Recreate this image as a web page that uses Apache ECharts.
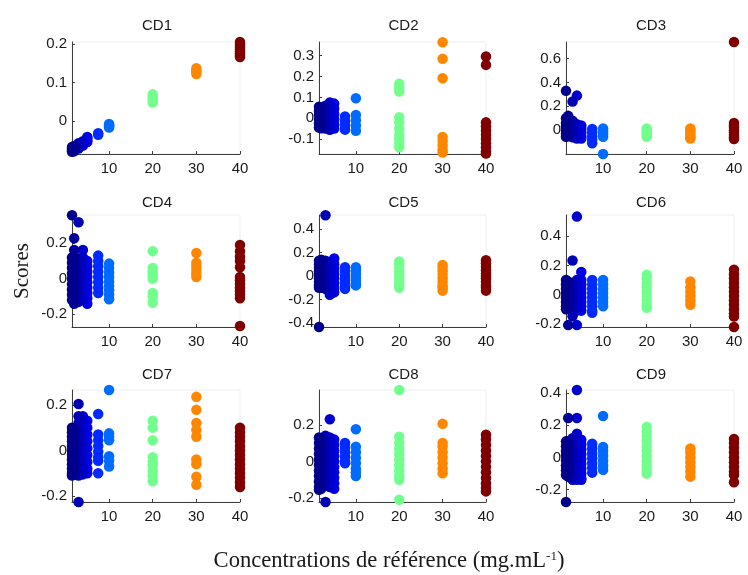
<!DOCTYPE html>
<html>
<head>
<meta charset="utf-8">
<script src="https://cdn.jsdelivr.net/npm/echarts@6/dist/echarts.min.js"></script>
<style>html,body{margin:0;padding:0;background:#fff}#chart{width:748px;height:575px}</style>
</head>
<body>
<div id="chart"></div>
<script>
// Concentrations (mg/mL) – x values of each column of points
const conc = [1.5, 2, 3, 4, 5, 7.5, 10, 20, 30, 40];
const xTicks = [10, 20, 30, 40];
const panelTitles = ['CD1', 'CD2', 'CD3', 'CD4', 'CD5', 'CD6', 'CD7', 'CD8', 'CD9'];

// Scores per panel, one list per concentration (same order as conc)
const cd1 = [
  [-0.08, -0.076, -0.072, -0.068],
  [-0.079, -0.074, -0.07, -0.065],
  [-0.072, -0.067, -0.062, -0.058],
  [-0.064, -0.058, -0.053],
  [-0.055, -0.05, -0.045, -0.042],
  [-0.036, -0.032],
  [-0.008, -0.011, -0.014, -0.017],
  [0.069, 0.062, 0.055, 0.048],
  [0.137, 0.132, 0.127, 0.122],
  [0.205, 0.2, 0.195, 0.19, 0.185, 0.18, 0.175, 0.17, 0.166]
];
const cd2 = [
  [0.055, 0.035, 0.015, -0.005, -0.025, -0.045],
  [0.05, 0.03, 0.01, -0.01, -0.03, -0.048],
  [0.06, 0.04, 0.02, 0, -0.02, -0.04, -0.05],
  [0.075, 0.05, 0.025, 0, -0.025, -0.05, -0.056],
  [0.07, 0.045, 0.02, -0.005, -0.03, -0.05],
  [0.008, -0.015, -0.035, -0.055],
  [0.096, 0.015, -0.01, -0.035, -0.06],
  [0.165, 0.145, 0.128, 0.005, -0.02, -0.05, -0.08, -0.1, -0.12, -0.14],
  [0.365, 0.285, 0.192, -0.09, -0.11, -0.13, -0.15, -0.165],
  [0.296, 0.256, -0.02, -0.04, -0.06, -0.08, -0.1, -0.12, -0.14, -0.16, -0.17]
];
const cd3 = [
  [0.33, 0.1, 0.06, 0.03, 0, -0.03, -0.055],
  [0.12, 0.08, 0.04, 0.01, -0.02, -0.05],
  [0.24, 0.08, 0.05, 0.02, -0.01, -0.04, -0.06],
  [0.29, 0.05, 0.02, -0.01, -0.04, -0.07],
  [0.04, 0.01, -0.02, -0.05, -0.07],
  [0.01, -0.02, -0.05, -0.08, -0.11],
  [0.015, -0.01, -0.03, -0.055, -0.2],
  [0.015, 0, -0.02, -0.04, -0.055],
  [0.015, 0, -0.02, -0.04, -0.06, -0.07],
  [0.74, 0.06, 0.04, 0.02, 0, -0.02, -0.04, -0.06, -0.075]
];
const cd4 = [
  [0.357, 0.12, 0.09, 0.06, 0.03, 0, -0.03, -0.06, -0.09, -0.12],
  [0.227, 0.162, 0.13, 0.1, 0.07, 0.04, 0.01, -0.02, -0.05, -0.08, -0.11, -0.14],
  [0.317, 0.11, 0.08, 0.05, 0.02, -0.01, -0.04, -0.07, -0.1, -0.13],
  [0.162, 0.12, 0.09, 0.06, 0.03, 0, -0.03, -0.06, -0.09, -0.12],
  [0.1, 0.07, 0.04, 0.01, -0.02, -0.05, -0.08, -0.11, -0.14],
  [0.13, 0.1, 0.07, 0.04, 0.01, -0.02, -0.05, -0.08],
  [0.085, 0.06, 0.035, 0.01, -0.015, -0.04, -0.065, -0.09, -0.115],
  [0.155, 0.06, 0.04, 0.02, 0, -0.08, -0.1, -0.135],
  [0.145, 0.09, 0.07, 0.05, 0.03, 0.01],
  [0.19, 0.155, 0.125, 0.1, 0.065, 0.01, -0.01, -0.03, -0.05, -0.07, -0.09, -0.11, -0.265]
];
const cd5 = [
  [-0.436, 0.13, 0.1, 0.07, 0.04, 0.01, -0.02, -0.05, -0.08, -0.1],
  [0.14, 0.11, 0.08, 0.05, 0.02, -0.01, -0.04, -0.07, -0.1],
  [0.52, 0.13, 0.1, 0.07, 0.04, 0.01, -0.02, -0.05, -0.08, -0.11],
  [0.1, 0.07, 0.04, 0.01, -0.02, -0.05, -0.08, -0.11, -0.14, -0.16],
  [0.15, 0.1, 0.06, 0.02, -0.02, -0.06, -0.1, -0.14],
  [0.075, 0.04, 0.005, -0.03, -0.06, -0.09, -0.11],
  [0.075, 0.05, 0.02, -0.01, -0.04, -0.07, -0.08],
  [0.125, 0.1, 0.07, 0.04, 0.01, -0.02, -0.05, -0.08, -0.1],
  [0.095, 0.07, 0.04, 0.01, -0.02, -0.05, -0.08, -0.1, -0.125],
  [0.135, 0.11, 0.08, 0.05, 0.02, 0, -0.02, -0.05, -0.08, -0.1, -0.125]
];
const cd6 = [
  [0.1, 0.07, 0.04, 0.01, -0.02, -0.05, -0.08, -0.1],
  [0.09, 0.06, 0.03, 0, -0.03, -0.06, -0.09, -0.209],
  [0.234, 0.08, 0.05, 0.02, -0.01, -0.04, -0.07, -0.1, -0.148],
  [0.534, 0.1, 0.07, 0.04, 0.01, -0.02, -0.05, -0.08, -0.11, -0.209],
  [0.155, 0.1, 0.07, 0.04, 0.01, -0.02, -0.05, -0.08, -0.11],
  [0.1, 0.07, 0.04, 0.01, -0.02, -0.05, -0.08, -0.11, -0.125],
  [0.1, 0.07, 0.04, 0.01, -0.02, -0.05, -0.08],
  [0.135, 0.11, 0.08, 0.05, 0.02, -0.01, -0.04, -0.07, -0.09],
  [0.09, 0.05, 0.02, -0.01, -0.04, -0.07],
  [0.17, 0.14, 0.11, 0.08, 0.05, 0.02, -0.01, -0.04, -0.07, -0.1, -0.13, -0.15, -0.222]
];
const cd7 = [
  [0.1, 0.08, 0.06, 0.04, 0.02, 0, -0.02, -0.04, -0.06, -0.08, -0.1, -0.11],
  [0.09, 0.065, 0.04, 0.015, -0.01, -0.035, -0.06, -0.085, -0.105],
  [0.204, 0.15, 0.12, 0.09, 0.06, 0.03, 0, -0.03, -0.06, -0.09, -0.11, -0.226],
  [0.15, 0.12, 0.09, 0.06, 0.03, 0, -0.03, -0.06, -0.09, -0.105],
  [0.13, 0.1, 0.07, 0.04, 0.01, -0.02, -0.05, -0.08, -0.1],
  [0.16, 0.07, 0.045, 0.02, -0.005, -0.03, -0.045, -0.1],
  [0.265, 0.075, 0.06, 0.045, -0.025, -0.045, -0.07],
  [0.13, 0.1, 0.045, -0.03, -0.05, -0.065, -0.09, -0.11, -0.135],
  [0.235, 0.178, 0.12, 0.09, 0.06, -0.04, -0.06, -0.115, -0.15],
  [0.1, 0.08, 0.06, 0.04, 0.02, 0, -0.02, -0.04, -0.06, -0.08, -0.1, -0.12, -0.14, -0.16]
];
const cd8 = [
  [0.13, 0.1, 0.07, 0.04, 0.01, -0.02, -0.05, -0.08, -0.11, -0.14, -0.155],
  [0.12, 0.09, 0.06, 0.03, 0, -0.03, -0.06, -0.09, -0.12, -0.15],
  [0.14, 0.11, 0.08, 0.05, 0.02, -0.01, -0.04, -0.07, -0.1, -0.13, -0.222],
  [0.23, 0.13, 0.1, 0.07, 0.04, 0.01, -0.02, -0.05, -0.08, -0.11, -0.14],
  [0.12, 0.09, 0.06, 0.03, 0, -0.03, -0.06, -0.09, -0.12, -0.15],
  [0.1, 0.075, 0.05, 0.025, 0, -0.01],
  [0.176, 0.08, 0.05, 0.02, -0.01, -0.04, -0.06, -0.08],
  [0.39, 0.135, 0.1, 0.07, 0.04, 0.01, -0.02, -0.05, -0.08, -0.1, -0.21],
  [0.205, 0.1, 0.08, 0.05, 0.02, -0.01, -0.04, -0.065],
  [0.145, 0.12, 0.09, 0.06, 0.03, 0, -0.03, -0.06, -0.09, -0.12, -0.145, -0.164]
];
const cd9 = [
  [-0.278, 0.1, 0.07, 0.04, 0.01, -0.02, -0.05, -0.08, -0.11],
  [0.245, 0.1, 0.07, 0.04, 0.01, -0.02, -0.05, -0.08, -0.11, -0.12],
  [0.12, 0.09, 0.06, 0.03, 0, -0.03, -0.06, -0.09, -0.12, -0.14],
  [0.42, 0.245, 0.148, 0.1, 0.07, 0.04, 0.01, -0.02, -0.05, -0.08, -0.11, -0.14],
  [0.11, 0.08, 0.05, 0.02, -0.01, -0.04, -0.07, -0.1, -0.13, -0.14],
  [0.085, 0.055, 0.025, -0.005, -0.035, -0.065, -0.095],
  [0.258, 0.065, 0.04, 0.01, -0.02, -0.05, -0.078],
  [0.19, 0.16, 0.13, 0.1, 0.07, 0.04, 0.01, -0.02, -0.05, -0.08, -0.1],
  [0.055, 0.03, 0, -0.03, -0.06, -0.09, -0.12],
  [0.115, 0.09, 0.06, 0.03, 0, -0.03, -0.06, -0.09, -0.11, -0.155]
];

// Axis ranges and tick labels of each panel
const yRanges = [
  [-0.086, 0.205], [-0.172, 0.366], [-0.2, 0.74],
  [-0.271, 0.358], [-0.436, 0.522], [-0.222, 0.545],
  [-0.226, 0.265], [-0.222, 0.39], [-0.278, 0.42]
];
const yTicks = [
  [0, 0.1, 0.2], [-0.1, 0, 0.1, 0.2, 0.3], [0, 0.2, 0.4, 0.6],
  [-0.2, 0, 0.2], [-0.4, -0.2, 0, 0.2, 0.4], [-0.2, 0, 0.2, 0.4],
  [-0.2, 0, 0.2], [-0.2, 0, 0.2], [-0.2, 0, 0.2, 0.4]
];
const xRange = [1.5, 40];
const yLabel = 'Scores';
const xLabel = 'Concentrations de référence (mg.mL';

const panels = [cd1, cd2, cd3, cd4, cd5, cd6, cd7, cd8, cd9];

// ---- layout ----
const colLeft = [72, 319, 566];
const colWidth = [168, 167, 168];
const rowTop = [42, 215, 390];
const rowHeight = 112;
const titleTop = [18, 195, 367];
const txt = '#1a1a1a';
const axisCol = '#3c3c3c';
const sans = 'Liberation Sans, Arial, sans-serif';
const serif = 'Liberation Serif, Times New Roman, serif';

const grids = [], xAxes = [], yAxes = [], series = [], titles = [];
panels.forEach((p, i) => {
  const r = Math.floor(i / 3), c = i % 3;
  grids.push({ left: colLeft[c], top: rowTop[r], width: colWidth[c], height: rowHeight,
    show: true, borderColor: '#efefef', borderWidth: 1, backgroundColor: 'transparent' });
  xAxes.push({
    gridIndex: i, type: 'value', min: xRange[0], max: xRange[1],
    axisLine: { show: true, onZero: false, lineStyle: { color: axisCol, width: 1 } },
    axisTick: { show: true, inside: true, length: 3, customValues: xTicks, lineStyle: { color: axisCol } },
    axisLabel: { customValues: xTicks, fontFamily: sans, fontSize: 15, color: txt, margin: 7 },
    splitLine: { show: false }
  });
  const ya = {
    gridIndex: i, type: 'value', min: yRanges[i][0], max: yRanges[i][1],
    axisLine: { show: true, onZero: false, lineStyle: { color: axisCol, width: 1 } },
    axisTick: { show: true, inside: true, length: 3, customValues: yTicks[i], lineStyle: { color: axisCol } },
    axisLabel: { customValues: yTicks[i], fontFamily: sans, fontSize: 15, color: txt, margin: 5,
      formatter: v => String(Math.round(v * 1000) / 1000) },
    splitLine: { show: false }
  };
  if (i === 3) {
    Object.assign(ya, { name: yLabel, nameLocation: 'middle', nameRotate: 90, nameGap: 39,
      nameTextStyle: { fontFamily: serif, fontSize: 21, color: txt } });
  }
  yAxes.push(ya);
  const data = [];
  for (let j = conc.length - 1; j >= 0; j--) {
    p[j].forEach(v => data.push([conc[j], v]));
  }
  series.push({ type: 'scatter', xAxisIndex: i, yAxisIndex: i, data, symbol: 'circle', symbolSize: 10.5,
    itemStyle: { opacity: 1 }, emphasis: { disabled: true } });
  titles.push({ text: panelTitles[i], left: colLeft[c] + colWidth[c] / 2 + 1, top: titleTop[r], textAlign: 'center',
    padding: 0, textStyle: { fontFamily: sans, fontSize: 15, fontWeight: 'normal', color: txt } });
});
titles.push({
  text: '{a|' + xLabel + '}{s|-1}{a|)}', left: 389, top: 550, textAlign: 'center', padding: 0,
  textStyle: { fontWeight: 'normal', rich: {
    a: { fontFamily: serif, fontSize: 22.6, fontWeight: 'normal', color: txt },
    s: { fontFamily: serif, fontSize: 13, fontWeight: 'normal', color: txt, verticalAlign: 'top', padding: [0, 0, 10, 0] }
  } }
});

const chart = echarts.init(document.getElementById('chart'), null, { renderer: 'canvas' });
chart.setOption({
  animation: false,
  backgroundColor: '#fff',
  title: titles,
  grid: grids,
  xAxis: xAxes,
  yAxis: yAxes,
  visualMap: { type: 'continuous', show: false, dimension: 0, min: 1, max: 40,
    seriesIndex: [0, 1, 2, 3, 4, 5, 6, 7, 8],
    inRange: { color: ['#000080', '#0000ff', '#0080ff', '#00ffff', '#80ff80', '#ffff00', '#ff8000', '#ff0000', '#800000'] } },
  series
});
</script>
</body>
</html>
